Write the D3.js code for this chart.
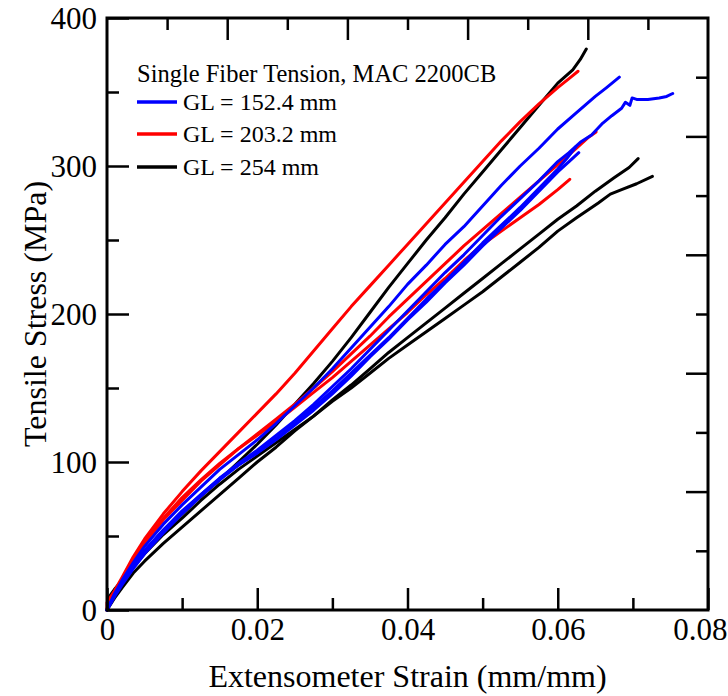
<!DOCTYPE html>
<html>
<head>
<meta charset="utf-8">
<script src="https://cdn.jsdelivr.net/npm/d3@7"></script>
<style>
  html, body { margin: 0; padding: 0; background: #fff; }
  svg { display: block; }
  text { font-family: "Liberation Serif", "Times New Roman", serif; fill: #000; }
</style>
</head>
<body>
<svg id="chart" width="728" height="696"></svg>
<script>
// ---- Data (strain mm/mm, stress MPa) ----
const blue1 = [[0,0],[0.001,11],[0.002,20],[0.0035,32],[0.005,43],[0.0075,58],[0.01,71],[0.0125,83],[0.015,95],[0.0175,105],[0.02,115],[0.0225,126],[0.025,138],[0.0275,150],[0.03,163],[0.0325,177],[0.035,191],[0.0375,205],[0.04,220],[0.0425,233],[0.045,247],[0.0475,259],[0.05,273],[0.0525,287],[0.055,300],[0.0575,312],[0.06,325],[0.0625,336],[0.065,347],[0.0665,353],[0.0682,360]];
const blue2 = [[0,0],[0.001,10],[0.002,18],[0.0035,30],[0.005,40],[0.0075,54],[0.01,66],[0.0125,78],[0.015,89],[0.0175,99],[0.02,108],[0.0225,118],[0.025,128],[0.0275,139],[0.03,151],[0.0325,163],[0.035,176],[0.0375,189],[0.04,202],[0.0425,215],[0.045,228],[0.0475,240],[0.05,253],[0.0525,266],[0.055,278],[0.0575,290],[0.06,303],[0.0615,309],[0.063,316],[0.0645,321],[0.066,329],[0.0672,334],[0.0685,339],[0.069,343],[0.0696,341],[0.0699,346],[0.0705,345],[0.072,345],[0.0735,346],[0.0745,347],[0.0753,349]];
const blue3 = [[0,0],[0.001,9],[0.002,17],[0.0035,28],[0.005,38],[0.0075,52],[0.01,65],[0.0125,77],[0.015,88],[0.0175,98],[0.02,107],[0.0225,116],[0.025,126],[0.0275,137],[0.03,148],[0.0325,160],[0.035,172],[0.0375,184],[0.04,197],[0.0425,210],[0.045,222],[0.0475,235],[0.05,248],[0.0525,260],[0.055,272],[0.0575,285],[0.06,298],[0.0612,305],[0.0624,313]];
const blue4 = [[0,0],[0.001,10],[0.002,19],[0.0035,30],[0.005,40],[0.0075,54],[0.01,67],[0.0125,78],[0.015,89],[0.0175,98],[0.02,106],[0.0225,115],[0.025,125],[0.0275,135],[0.03,146],[0.0325,158],[0.035,171],[0.0375,183],[0.04,196],[0.0425,208],[0.045,221],[0.0475,233],[0.05,246],[0.0525,258],[0.055,270],[0.0575,283],[0.06,296],[0.0615,303],[0.0628,309]];
const red1 = [[0,0],[0,5],[0.001,13],[0.002,22],[0.0035,36],[0.005,48],[0.0075,65],[0.01,80],[0.0125,94],[0.015,107],[0.0175,120],[0.02,133],[0.0225,146],[0.025,160],[0.0275,175],[0.03,190],[0.0325,205],[0.035,219],[0.0375,233],[0.04,247],[0.0425,261],[0.045,275],[0.0475,289],[0.05,303],[0.0525,317],[0.055,330],[0.0575,342],[0.06,353],[0.0615,359],[0.0627,364]];
const red2 = [[0,0],[0.001,11],[0.002,20],[0.0035,34],[0.005,45],[0.0075,61],[0.01,74],[0.0125,87],[0.015,98],[0.0175,109],[0.02,119],[0.0225,129],[0.025,139],[0.0275,150],[0.03,161],[0.0325,173],[0.035,185],[0.0375,198],[0.04,210],[0.0425,222],[0.045,234],[0.0475,246],[0.05,257],[0.0525,268],[0.055,279],[0.0575,290],[0.06,301],[0.0625,312],[0.064,319],[0.0651,323]];
const red3 = [[0,0],[0.001,12],[0.002,21],[0.0035,35],[0.005,46],[0.0075,62],[0.01,76],[0.0125,88],[0.015,99],[0.0175,109],[0.02,118],[0.0225,127],[0.025,137],[0.0275,147],[0.03,157],[0.0325,168],[0.035,179],[0.0375,190],[0.04,201],[0.0425,213],[0.045,224],[0.0475,236],[0.05,247],[0.0525,256],[0.055,265],[0.0575,274],[0.06,284],[0.0616,291]];
const black1 = [[0,0],[0.0003,8],[0.001,13],[0.002,20],[0.0035,30],[0.005,39],[0.0075,53],[0.01,65],[0.0125,77],[0.015,88],[0.0175,100],[0.02,112],[0.0225,125],[0.025,139],[0.0275,153],[0.03,168],[0.0325,184],[0.035,201],[0.0375,218],[0.04,234],[0.0425,250],[0.045,265],[0.0475,281],[0.05,296],[0.0525,311],[0.055,326],[0.0575,341],[0.06,356],[0.062,365],[0.063,372],[0.0638,379]];
const black2 = [[0,0],[0.001,8],[0.002,15],[0.0035,25],[0.005,33],[0.0075,45],[0.01,56],[0.0125,67],[0.015,78],[0.0175,89],[0.02,100],[0.0225,110],[0.025,121],[0.0275,131],[0.03,142],[0.0325,152],[0.035,163],[0.0375,174],[0.04,184],[0.0425,194],[0.045,204],[0.0475,214],[0.05,224],[0.0525,234],[0.055,244],[0.0575,254],[0.06,264],[0.0625,273],[0.065,283],[0.0675,292],[0.0695,299],[0.0707,305]];
const black3 = [[0,0],[0.0003,9],[0.001,14],[0.002,20],[0.0035,29],[0.005,38],[0.0075,51],[0.01,62],[0.0125,74],[0.015,85],[0.0175,95],[0.02,104],[0.0225,113],[0.025,122],[0.0275,131],[0.03,141],[0.0325,150],[0.035,160],[0.0375,170],[0.04,179],[0.0425,188],[0.045,197],[0.0475,206],[0.05,215],[0.0525,225],[0.055,235],[0.0575,245],[0.06,256],[0.0625,265],[0.0654,275],[0.067,281],[0.0685,284],[0.0705,288],[0.0726,293]];

const seriesNames = ["GL = 152.4 mm", "GL = 203.2 mm", "GL = 254 mm"];
const seriesColors = ["#0000ff", "#ff0000", "#000000"];
const legendTitle = "Single Fiber Tension, MAC 2200CB";
const xTickLabels = ["0", "0.02", "0.04", "0.06", "0.08"];
const yTickLabels = ["0", "100", "200", "300", "400"];
const xTitle = "Extensometer Strain (mm/mm)";
const yTitle = "Tensile Stress (MPa)";

const groups = [
  { name: seriesNames[0], color: seriesColors[0], curves: [blue1, blue2, blue3, blue4] },
  { name: seriesNames[1], color: seriesColors[1], curves: [red1, red2, red3] },
  { name: seriesNames[2], color: seriesColors[2], curves: [black1, black2, black3] }
];

// ---- Layout ----
const L = 107, R = 708, T = 18, B = 610;
const svg = d3.select("#chart");
const x = d3.scaleLinear().domain([0, 0.08]).range([L, R]);
const y = d3.scaleLinear().domain([0, 400]).range([B, T]);

const line = d3.line().x(d => x(d[0])).y(d => y(d[1]));

// curves: black first, then red, then blue
const drawOrder = [groups[2], groups[1], groups[0]];
drawOrder.forEach(g => {
  g.curves.forEach(c => {
    svg.append("path").datum(c)
      .attr("d", line)
      .attr("fill", "none")
      .attr("stroke", g.color)
      .attr("stroke-width", 3)
      .attr("stroke-linejoin", "round")
      .attr("stroke-linecap", "round");
  });
});

// ---- Axes ----
const MAJ = 22, MIN = 12;
function styleAxis(g) {
  g.select(".domain").remove();
  g.selectAll(".tick line").attr("stroke", "#000").attr("stroke-width", 2.5);
}
const xMajorVals = xTickLabels.map(Number);
const xMinorVals = d3.range(0.01, 0.08, 0.02);
const yMajorVals = yTickLabels.map(Number);
const yMinorVals = d3.range(50, 400, 100);

// bottom major with labels
svg.append("g").attr("transform", `translate(0,${B})`)
  .call(d3.axisBottom(x).tickValues(xMajorVals).tickSize(-MAJ).tickPadding(8)
    .tickFormat((d, i) => xTickLabels[i]))
  .call(styleAxis)
  .call(g => g.selectAll("text").attr("font-size", 31).attr("font-family", "Liberation Serif").attr("dy", "0.78em").attr("y", 6))
  .call(g => g.selectAll(".tick").filter((d, i, n) => i === n.length - 1).select("text")
    .attr("text-anchor", "end").attr("x", 727 - R));
svg.append("g").attr("transform", `translate(0,${B})`)
  .call(d3.axisBottom(x).tickValues(xMinorVals).tickSize(-MIN).tickFormat(""))
  .call(styleAxis);

// left
svg.append("g").attr("transform", `translate(${L},0)`)
  .call(d3.axisLeft(y).tickValues(yMajorVals).tickSize(-MAJ).tickPadding(10)
    .tickFormat((d, i) => yTickLabels[i]))
  .call(styleAxis)
  .call(g => g.selectAll("text").attr("font-size", 31).attr("font-family", "Liberation Serif").attr("x", -10).attr("dy", "0.34em"));
svg.append("g").attr("transform", `translate(${L},0)`)
  .call(d3.axisLeft(y).tickValues(yMinorVals).tickSize(-MIN).tickFormat(""))
  .call(styleAxis);

// top (10 divisions)
const xTop = d3.range(1, 10).map(i => i * 0.008);
svg.append("g").attr("transform", `translate(0,${T})`)
  .call(d3.axisTop(x).tickValues(xTop.filter((d, i) => i % 2 === 1)).tickSize(-MAJ).tickFormat(""))
  .call(styleAxis);
svg.append("g").attr("transform", `translate(0,${T})`)
  .call(d3.axisTop(x).tickValues(xTop.filter((d, i) => i % 2 === 0)).tickSize(-MIN).tickFormat(""))
  .call(styleAxis);

// right (10 divisions)
const yRight = d3.range(1, 10).map(i => i * 40);
svg.append("g").attr("transform", `translate(${R},0)`)
  .call(d3.axisRight(y).tickValues(yRight.filter((d, i) => i % 2 === 1)).tickSize(-MAJ).tickFormat(""))
  .call(styleAxis);
svg.append("g").attr("transform", `translate(${R},0)`)
  .call(d3.axisRight(y).tickValues(yRight.filter((d, i) => i % 2 === 0)).tickSize(-MIN).tickFormat(""))
  .call(styleAxis);

// frame
svg.append("rect").attr("x", L).attr("y", T).attr("width", R - L).attr("height", B - T)
  .attr("fill", "none").attr("stroke", "#000").attr("stroke-width", 3);

// titles
svg.append("text").attr("x", (L + R) / 2).attr("y", 687)
  .attr("text-anchor", "middle").attr("font-size", 32).text(xTitle);
svg.append("text").attr("transform", `translate(46,${(T + B) / 2}) rotate(-90)`)
  .attr("text-anchor", "middle").attr("font-size", 32).text(yTitle);

// legend
const lg = svg.append("g");
lg.append("text").attr("x", 137).attr("y", 82).attr("font-size", 24.5).text(legendTitle);
groups.forEach((g, i) => {
  const ly = [102, 134, 167][i];
  lg.append("line").attr("x1", 137).attr("x2", 177).attr("y1", ly).attr("y2", ly)
    .attr("stroke", g.color).attr("stroke-width", 3.5);
  lg.append("text").attr("x", 183).attr("y", ly + 8).attr("font-size", 24).text(g.name);
});
</script>
</body>
</html>
